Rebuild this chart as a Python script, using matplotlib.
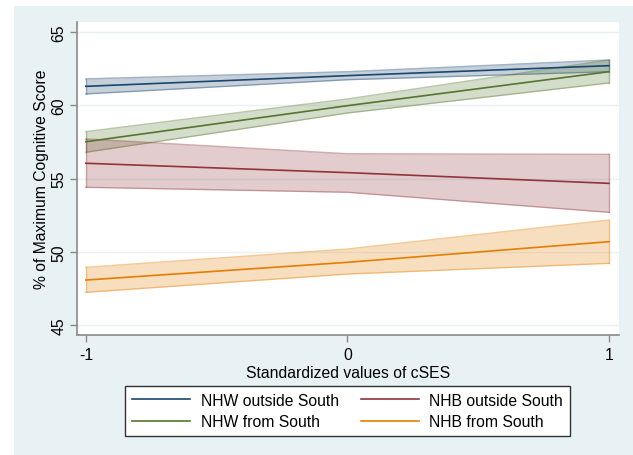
import numpy as np
import matplotlib
matplotlib.use("Agg")
import matplotlib.pyplot as plt
from matplotlib.patches import Rectangle

plt.rcParams['font.family'] = ['Liberation Sans', 'DejaVu Sans']

# margins at cSES = -1, 0, 1
cses = [-1, 0, 1]
groups = ["NHW outside South", "NHW from South", "NHB outside South", "NHB from South"]
est = [
    [61.29, 62.02, 62.70],
    [57.51, 59.97, 62.29],
    [56.04, 55.40, 54.67],
    [48.07, 49.28, 50.69],
]
ci_lo = [
    [60.77, 61.74, 62.29],
    [56.79, 59.47, 61.52],
    [54.40, 54.06, 52.69],
    [47.23, 48.48, 49.21],
]
ci_hi = [
    [61.80, 62.29, 63.09],
    [58.20, 60.43, 63.09],
    [57.70, 56.69, 56.65],
    [48.94, 50.19, 52.17],
]
colors = ["#1a476f", "#55752f", "#90353b", "#e37e00"]
yticks = [45, 50, 55, 60, 65]
xticks = [-1, 0, 1]
fs = 11.3

W, H = 633, 456
fig = plt.figure(figsize=(W / 100, H / 100), dpi=100)
fig.patch.set_facecolor("white")
fig.patches.append(Rectangle((14 / W, 0), 1 - 14 / W, 1 - 7 / H, transform=fig.transFigure,
                             facecolor="#e8f2f4", edgecolor="none", zorder=-10))

ax = fig.add_axes([77 / W, 1 - 336 / H, (619 - 77) / W, (336 - 23) / H])
ax.set_facecolor("white")

for i in range(len(groups)):
    ax.fill_between(cses, ci_lo[i], ci_hi[i], color=colors[i], alpha=0.25, lw=0, zorder=2)
    ax.plot(cses, ci_lo[i], color=colors[i], alpha=0.4, lw=1, zorder=2)
    ax.plot(cses, ci_hi[i], color=colors[i], alpha=0.4, lw=1, zorder=2)
    ax.plot([cses[0], cses[0]], [ci_lo[i][0], ci_hi[i][0]], color=colors[i], alpha=0.4, lw=1, zorder=2)
    ax.plot([cses[-1], cses[-1]], [ci_lo[i][-1], ci_hi[i][-1]], color=colors[i], alpha=0.4, lw=1, zorder=2)
    ax.plot(cses, est[i], color=colors[i], lw=1.2, zorder=3, label=groups[i])

ax.set_xlim(-1.034, 1.038)
ax.set_ylim(44.32, 65.68)
ax.set_yticks(yticks)
ax.set_xticks(xticks)
ax.set_xticklabels(["-1", "0", "1"])
ax.grid(axis="y", color="#e8f2f4", lw=1)
ax.set_axisbelow(True)

for s in ["top", "right"]:
    ax.spines[s].set_visible(False)
for s in ["left", "bottom"]:
    ax.spines[s].set_color("#8a8a8a")
    ax.spines[s].set_linewidth(1.2)
ax.tick_params(colors="#8a8a8a", labelcolor="black", length=5, width=1, labelsize=fs)
ax.tick_params(axis="y", pad=2.5)
plt.setp(ax.get_yticklabels(), rotation=90, va="center")

ax.set_xlabel("Standardized values of cSES", fontsize=fs, labelpad=2)
ax.set_ylabel("% of Maximum Cognitive Score", fontsize=fs, labelpad=2)

handles, labels = ax.get_legend_handles_labels()
leg = fig.legend(handles, labels, ncol=2,
                 loc="center", bbox_to_anchor=((120 + 575) / 2 / W, 1 - 412 / H),
                 fontsize=fs, frameon=True, fancybox=False, edgecolor="#333333",
                 handlelength=3.7, columnspacing=1.4, handletextpad=0.65, labelspacing=0.4,
                 borderpad=0.45)
leg.get_frame().set_linewidth(1)
leg.get_frame().set_facecolor("white")
leg.get_frame().set_alpha(1)

fig.savefig("out.png", dpi=100, facecolor=fig.get_facecolor())
